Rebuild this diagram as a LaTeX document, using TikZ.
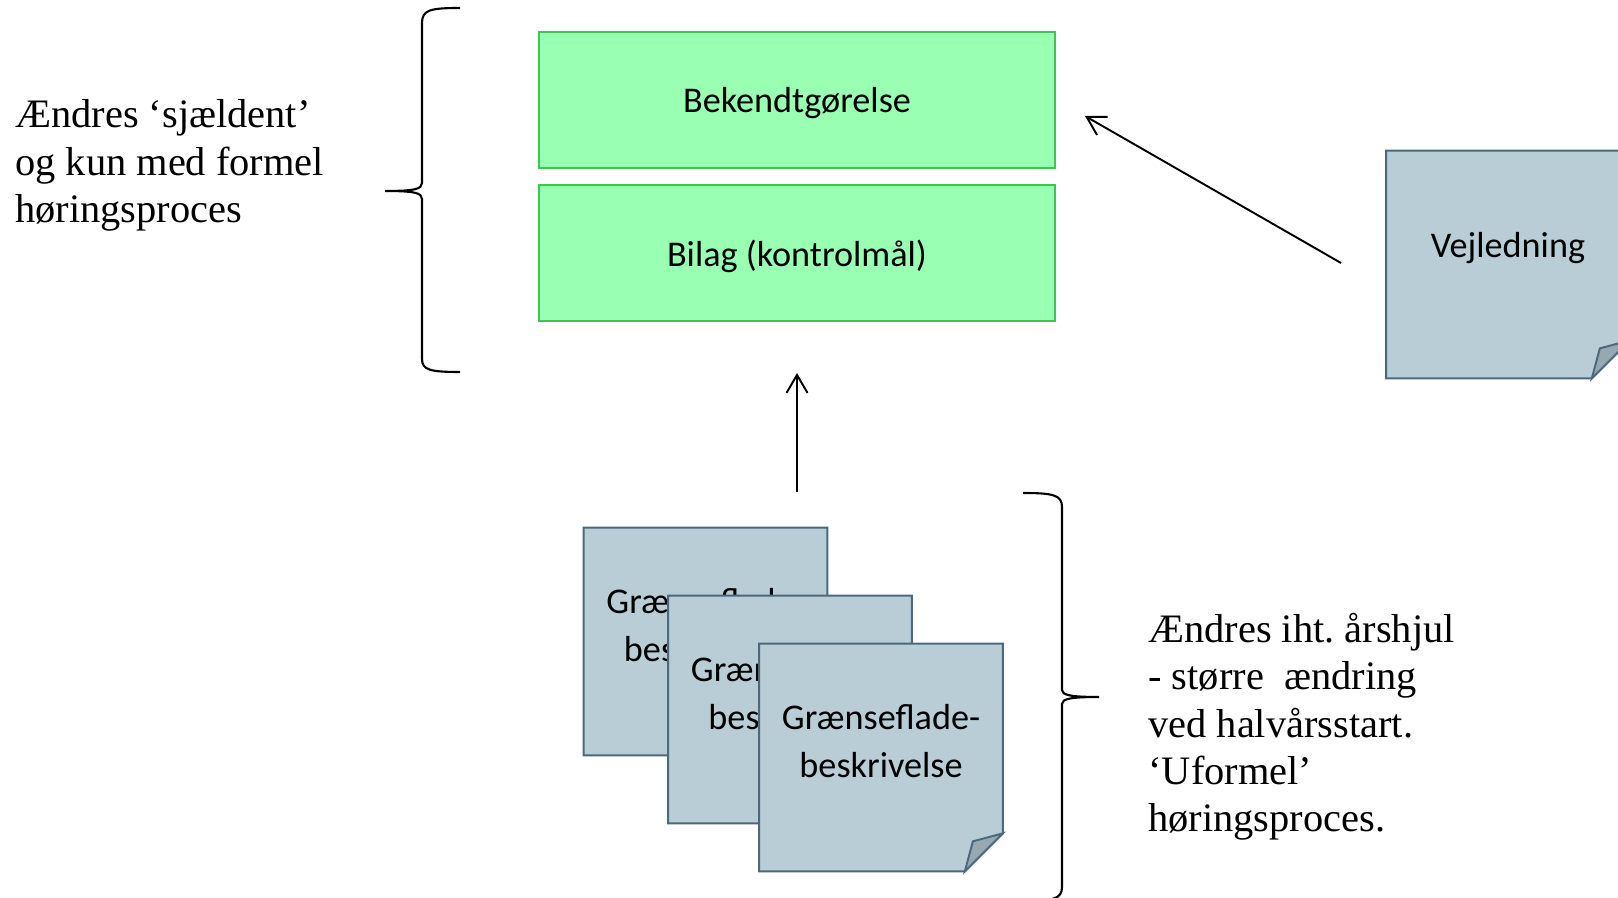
\documentclass[tikz,border=0pt]{standalone}
\usepackage{fontspec}
\setmainfont{Liberation Serif}
\newfontfamily\calfont{Carlito}
\usetikzlibrary{arrows.meta,positioning}

\definecolor{lovgreen}{RGB}{153,255,179}
\definecolor{lovedge}{RGB}{60,200,80}
\definecolor{notefill}{RGB}{185,205,214}
\definecolor{noteedge}{RGB}{75,105,125}
\definecolor{foldfill}{RGB}{150,168,177}

\tikzset{
  lovbox/.style={draw=lovedge, fill=lovgreen, line width=1.2pt, minimum width=10.32cm, minimum height=2.72cm, inner sep=0pt, text depth=0pt, font=\calfont\fontsize{20.6}{27}\selectfont},
  notearea/.style={minimum width=4.86cm, minimum height=4.54cm, inner sep=0pt},
  notepaper/.style={draw=noteedge, fill=notefill, line width=1.1pt},
  notefold/.style={draw=noteedge, fill=foldfill, line width=1.1pt},
  notetext/.style={align=center, inner sep=0pt, font=\calfont\fontsize{20.6}{27.3}\selectfont},
  remark/.style={align=left, anchor=north west, inner sep=0pt, font=\fontsize{23}{27}\selectfont\frenchspacing},
  link/.style={-{Straight Barb[length=3.6mm,width=4.2mm]}, line width=1.1pt},
  brc/.style={line width=1.2pt}
}

\newcommand{\postit}[4]{
\node[notearea] (#1) at (#2, #3) {};
\draw[notepaper] (#1.north west) -- (#1.north east) -- ([yshift=0.76cm]#1.south east) -- ([xshift=-0.76cm]#1.south east) -- (#1.south west) -- cycle;
\draw[notefold] ([xshift=-0.76cm]#1.south east) -- ([xshift=-0.6cm,yshift=0.6cm]#1.south east) -- ([yshift=0.76cm]#1.south east) -- cycle;
\node[notetext] (#1-text) at ([yshift=0.33cm]#1.center) {#4};
}

\begin{document}
\begin{tikzpicture}
\useasboundingbox (0,0) rectangle (32.36,17.96);

\node[lovbox] (bek) at (15.94,15.96) {Bekendtgørelse};
\node[lovbox, below=0.3cm of bek] (bilag) {Bilag (kontrolmål)};

\postit{vejl}{30.16}{12.67}{Vejledning}
\postit{gfa}{14.11}{5.13}{Grænseflade-\\beskrivelse}
\postit{gfb}{15.80}{3.77}{Grænseflade-\\beskrivelse}
\postit{gfc}{17.62}{2.81}{Grænseflade-\\beskrivelse}

\node[remark] (sjaelden) at (0.30,15.97) {Ændres ‘sjældent’\\og kun med formel\\høringsproces};
\node[remark] (aarshjul) at (22.96,5.71) {Ændres iht. årshjul\\- større\ \ ændring\\ved halvårsstart.\\‘Uformel’\\høringsproces.};

% braces
\draw[brc] (9.20,17.80) .. controls (8.60,17.80) and (8.44,17.76) .. (8.44,17.50) -- (8.44,14.30) .. controls (8.44,14.18) and (8.30,14.14) .. (7.70,14.14) .. controls (8.30,14.14) and (8.44,14.10) .. (8.44,13.98) -- (8.44,10.78) .. controls (8.44,10.56) and (8.60,10.52) .. (9.20,10.52);
\draw[brc] (20.46,8.10) .. controls (21.06,8.10) and (21.24,8.06) .. (21.24,7.82) -- (21.24,4.16) .. controls (21.24,4.06) and (21.40,4.02) .. (21.98,4.02) .. controls (21.40,4.02) and (21.24,3.98) .. (21.24,3.88) -- (21.24,0.22) .. controls (21.24,-0.02) and (21.06,-0.06) .. (20.46,-0.06);

\coordinate (stacktop) at (15.94,8.12);
\coordinate (bilagin) at (15.94,10.50);
\draw[link] (stacktop) -- (bilagin);
\coordinate (vejlout) at (26.82,12.70);
\coordinate (bekin) at (21.70,15.64);
\draw[link] (vejlout) -- (bekin);
\end{tikzpicture}
\end{document}
